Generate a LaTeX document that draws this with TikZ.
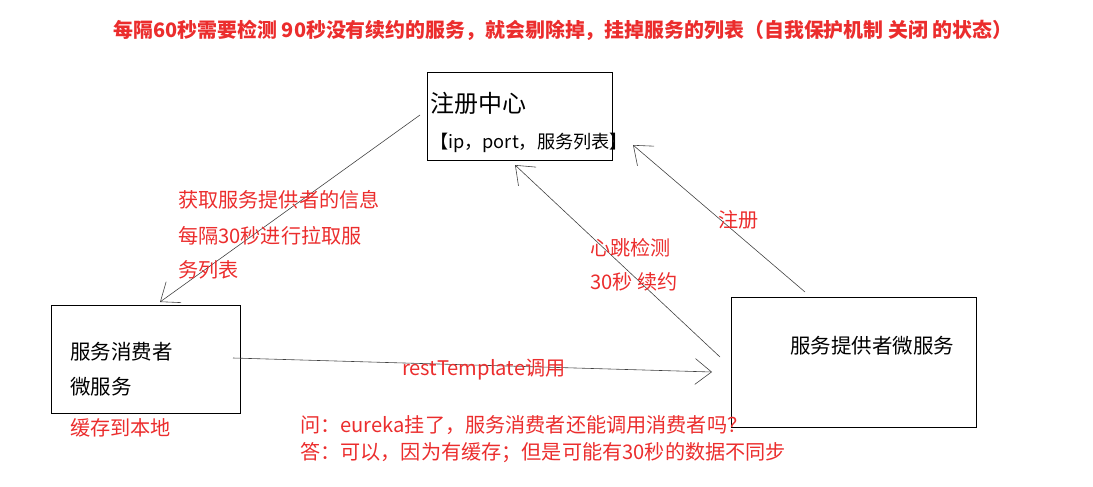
\documentclass[tikz,border=0pt]{standalone}
\usepackage{fontspec}
\setmainfont{Noto Sans CJK SC}
\usetikzlibrary{arrows.meta}
\definecolor{myred}{RGB}{235,45,45}
\begin{document}
\begin{tikzpicture}[x=0.03cm,y=-0.03cm,
  box/.style={draw,line width=0.6pt,inner sep=0},
  rt/.style={text=myred,anchor=west,font=\fontsize{17.2}{20}\selectfont},
  bt/.style={text=black,anchor=west,font=\fontsize{17.5}{20}\selectfont},
  con/.style={draw=black!75,line width=0.5pt,-{Straight Barb[length=14pt,width=22pt]}}]
\path[use as bounding box] (0,0) rectangle (1093,487);
\node[text=myred,font=\bfseries\fontsize{17}{20}\selectfont] (title) at (563,30) {每隔60秒需要检测 90秒没有续约的服务，就会剔除掉，挂掉服务的列表（自我保护机制 关闭 的状态）};
\draw[box] (427,72) rectangle (612,160);
\node[bt,font=\fontsize{20.5}{22}\selectfont] (regt) at (426,103) {注册中心};
\node[bt,font=\fontsize{15.5}{18}\selectfont] (regl) at (426,143) {【ip，port，服务列表】};
\draw[box] (51,305) rectangle (240,413);
\draw[box] (731,297) rectangle (976,427);
\coordinate (c1) at (420,115); \coordinate (c2) at (160,302);
\coordinate (h1) at (720,357); \coordinate (h2) at (515,165);
\coordinate (r1) at (805,292); \coordinate (r2) at (633,145);
\coordinate (t1) at (233,358); \coordinate (t2) at (712,372);
\draw[con] (c1) -- (c2);
\draw[con] (h1) -- (h2);
\draw[con] (r1) -- (r2);
\draw[con] (t1) -- (t2);
\node[rt] (a1) at (174,200) {获取服务提供者的信息};
\node[rt] (a2) at (174,236) {每隔30秒进行拉取服};
\node[rt] (a3) at (174,270) {务列表};
\node[rt] (hb1) at (586,248) {心跳检测};
\node[rt] (hb2) at (586,282) {30秒 续约};
\node[rt] (zc) at (714,220) {注册};
\node[bt] (cs1) at (66,352) {服务消费者};
\node[bt] (cs2) at (66,387) {微服务};
\node[bt] (pv) at (786,346) {服务提供者微服务};
\node[rt] (rtl) at (398,370) {restTemplate调用};
\node[rt] (cache) at (66,428) {缓存到本地};
\node[rt] (q) at (296,425) {问：eureka挂了，服务消费者还能调用消费者吗？};
\node[rt] (ans) at (296,453) {答：可以，因为有缓存；但是可能有30秒的数据不同步};
\end{tikzpicture}
\end{document}
